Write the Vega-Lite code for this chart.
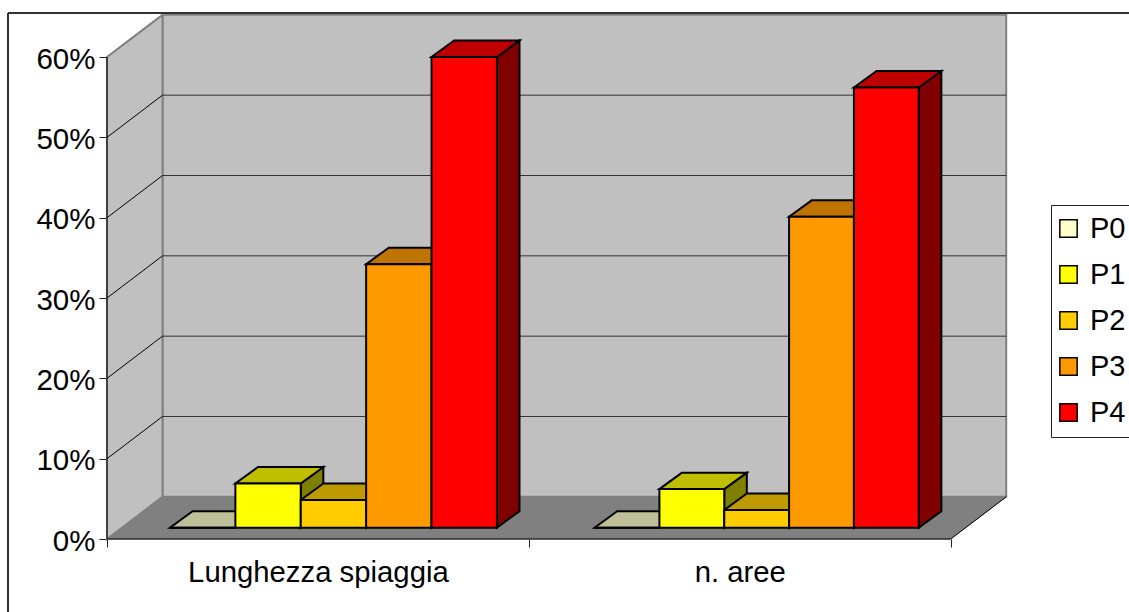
{
  "$schema": "https://vega.github.io/schema/vega-lite/v6.json",
  "width": 1121,
  "height": 599,
  "autosize": {"type": "none"},
  "padding": {"left": 8, "top": 13, "right": 0, "bottom": 0},
  "background": "white",
  "view": {"stroke": null},
  "config": {
    "font": "Liberation Sans"
  },
  "data": {
    "values": [
      {"category": "Lunghezza spiaggia", "series": "P0", "value": 0},
      {"category": "Lunghezza spiaggia", "series": "P1", "value": 5.5},
      {"category": "Lunghezza spiaggia", "series": "P2", "value": 3.45},
      {"category": "Lunghezza spiaggia", "series": "P3", "value": 32.8},
      {"category": "Lunghezza spiaggia", "series": "P4", "value": 58.6},
      {"category": "n. aree", "series": "P0", "value": 0},
      {"category": "n. aree", "series": "P1", "value": 4.8},
      {"category": "n. aree", "series": "P2", "value": 2.2},
      {"category": "n. aree", "series": "P3", "value": 38.7},
      {"category": "n. aree", "series": "P4", "value": 54.8}
    ]
  },
  "transform": [
    {"calculate": "datum.category === 'n. aree' ? 1 : 0", "as": "cat"},
    {"calculate": "indexof(['P0','P1','P2','P3','P4'], datum.series)", "as": "ser"},
    {"calculate": "0.155 - 0.0013 * datum.cat", "as": "barWidth"},
    {"calculate": "0.1138 + 1.0065 * datum.cat + 0.0355 + datum.barWidth * datum.ser", "as": "x0"},
    {"calculate": "datum.x0 + datum.barWidth", "as": "x1"},
    {"calculate": "1.41", "as": "base"},
    {"calculate": "datum.base + datum.value", "as": "top"},
    {"calculate": "datum.category + datum.series", "as": "key"}
  ],
  "layer": [
    {
      "data": {"values": [{"c0": 0, "c1": 2, "p0": 0, "p1": 60}]},
      "transform": [
        {"calculate": "datum.c0 + 0.1316", "as": "xa"},
        {"calculate": "datum.c1 + 0.1316", "as": "xb"},
        {"calculate": "datum.p0 + 5.25", "as": "ya"},
        {"calculate": "datum.p1 + 5.25", "as": "yb"}
      ],
      "mark": {"type": "rect", "fill": "#c0c0c0", "stroke": "#808080", "strokeWidth": 2},
      "encoding": {
        "x": {
          "field": "xa", "type": "quantitative",
          "scale": {"domain": [-0.23468, 2.42266], "nice": false, "zero": false},
          "axis": {
            "orient": "bottom", "values": [0, 1, 2], "labels": false, "domain": false, "grid": false,
            "offset": -73, "tickSize": 8, "tickColor": "#222222", "tickWidth": 1, "title": null
          }
        },
        "x2": {"field": "xb"},
        "y": {
          "field": "ya", "type": "quantitative",
          "scale": {"domain": [-9.0875, 65.48], "nice": false, "zero": false},
          "axis": {
            "orient": "left", "values": [0, 10, 20, 30, 40, 50, 60],
            "labelExpr": "datum.value + '%'", "labelFontSize": 29.5, "labelFont": "Liberation Sans", "labelColor": "#000000",
            "labelPadding": 4, "labelOffset": 2, "domain": false, "grid": false,
            "offset": -99, "tickSize": 8, "tickColor": "#222222", "tickWidth": 1, "title": null
          }
        },
        "y2": {"field": "yb"}
      }
    },
    {
      "data": {"values": [{"depth": 0}, {"depth": 1}]},
      "transform": [
        {"calculate": "datum.depth * 0.1316", "as": "xw"},
        {"calculate": "datum.depth * 5.25", "as": "ylo"},
        {"calculate": "60 + datum.depth * 5.25", "as": "yhi"}
      ],
      "mark": {"type": "area", "fill": "#c0c0c0", "stroke": "#808080", "strokeWidth": 2},
      "encoding": {
        "x": {
          "field": "xw", "type": "quantitative",
          "axis": {
            "orient": "bottom", "values": [0.5, 1.5],
            "labelExpr": "datum.value < 1 ? 'Lunghezza spiaggia' : 'n. aree'",
            "labelFontSize": 29.3, "labelFont": "Liberation Sans", "labelColor": "#000000", "labelLimit": 500,
            "labelPadding": 19, "ticks": false, "domain": false, "grid": false,
            "offset": -73, "title": null
          }
        },
        "y": {"field": "ylo", "type": "quantitative", "axis": null},
        "y2": {"field": "yhi"}
      }
    },
    {
      "data": {"values": [{"depth": 0}, {"depth": 1}]},
      "transform": [
        {"calculate": "datum.depth * 0.1316", "as": "xa"},
        {"calculate": "2 + datum.depth * 0.1316", "as": "xb"},
        {"calculate": "datum.depth * 5.25", "as": "yf"}
      ],
      "mark": {"type": "area", "orient": "horizontal", "fill": "#808080", "stroke": "#808080", "strokeWidth": 1},
      "encoding": {
        "x": {"field": "xa", "type": "quantitative", "axis": null},
        "x2": {"field": "xb"},
        "y": {"field": "yf", "type": "quantitative", "axis": null}
      }
    },
    {
      "data": {"values": [{"pct": 10}, {"pct": 20}, {"pct": 30}, {"pct": 40}, {"pct": 50}]},
      "transform": [
        {"calculate": "0.1316", "as": "xa"},
        {"calculate": "2.1316", "as": "xb"},
        {"calculate": "datum.pct + 5.25", "as": "yg"}
      ],
      "mark": {"type": "rule", "stroke": "#333333", "strokeWidth": 1},
      "encoding": {
        "x": {"field": "xa", "type": "quantitative", "axis": null},
        "x2": {"field": "xb"},
        "y": {"field": "yg", "type": "quantitative", "axis": null}
      }
    },
    {
      "data": {"values": [{"pct": 10}, {"pct": 20}, {"pct": 30}, {"pct": 40}, {"pct": 50}]},
      "transform": [
        {"calculate": "[0, 1]", "as": "d"},
        {"flatten": ["d"]},
        {"calculate": "datum.d * 0.1316", "as": "xg"},
        {"calculate": "datum.pct + datum.d * 5.25", "as": "yg"}
      ],
      "mark": {"type": "line", "stroke": "#000000", "strokeWidth": 1},
      "encoding": {
        "x": {"field": "xg", "type": "quantitative", "axis": null},
        "y": {"field": "yg", "type": "quantitative", "axis": null},
        "detail": {"field": "pct"}
      }
    },
    {
      "data": {"values": [{"depth": 0}, {"depth": 1}]},
      "transform": [
        {"calculate": "2 + datum.depth * 0.1316", "as": "xe"},
        {"calculate": "datum.depth * 5.25", "as": "ye"}
      ],
      "mark": {"type": "line", "stroke": "#000000", "strokeWidth": 1},
      "encoding": {
        "x": {"field": "xe", "type": "quantitative", "axis": null},
        "y": {"field": "ye", "type": "quantitative", "axis": null}
      }
    },
    {
      "transform": [
        {"calculate": "[0, 1]", "as": "d"},
        {"flatten": ["d"]},
        {"calculate": "datum.x1 + datum.d * 0.0535", "as": "xs"},
        {"calculate": "datum.base + datum.d * 2.05", "as": "ylo"},
        {"calculate": "datum.top + datum.d * 2.05", "as": "yhi"}
      ],
      "mark": {"type": "area", "stroke": "#000000", "strokeWidth": 2, "strokeJoin": "miter"},
      "encoding": {
        "x": {"field": "xs", "type": "quantitative", "axis": null},
        "y": {"field": "ylo", "type": "quantitative", "axis": null},
        "y2": {"field": "yhi"},
        "detail": {"field": "key"},
        "fill": {
          "field": "series", "type": "nominal", "legend": null,
          "scale": {"domain": ["P0", "P1", "P2", "P3", "P4"], "range": ["#808066", "#808000", "#806600", "#804c00", "#800000"]}
        }
      }
    },
    {
      "transform": [
        {"calculate": "[0, 1]", "as": "d"},
        {"flatten": ["d"]},
        {"calculate": "datum.x0 + datum.d * 0.0535", "as": "xa"},
        {"calculate": "datum.x1 + datum.d * 0.0535", "as": "xb"},
        {"calculate": "datum.top + datum.d * 2.05", "as": "yt"}
      ],
      "mark": {"type": "area", "orient": "horizontal", "stroke": "#000000", "strokeWidth": 2, "strokeJoin": "miter"},
      "encoding": {
        "x": {"field": "xa", "type": "quantitative", "axis": null},
        "x2": {"field": "xb"},
        "y": {"field": "yt", "type": "quantitative", "axis": null},
        "detail": {"field": "key"},
        "fill": {
          "field": "series", "type": "nominal", "legend": null,
          "scale": {"domain": ["P0", "P1", "P2", "P3", "P4"], "range": ["#bfbf99", "#bfbf00", "#bf9900", "#bf7300", "#bf0000"]}
        }
      }
    },
    {
      "mark": {"type": "rect", "stroke": "#000000", "strokeWidth": 2},
      "encoding": {
        "x": {"field": "x0", "type": "quantitative", "axis": null},
        "x2": {"field": "x1"},
        "y": {"field": "base", "type": "quantitative", "axis": null},
        "y2": {"field": "top"},
        "fill": {
          "field": "series", "type": "nominal",
          "scale": {"domain": ["P0", "P1", "P2", "P3", "P4"], "range": ["#ffffcc", "#ffff00", "#ffcc00", "#ff9900", "#ff0000"]},
          "legend": {
            "title": null, "orient": "none", "legendX": 1043, "legendY": 192,
            "symbolType": "square", "symbolSize": 300, "symbolStrokeColor": "#000000", "symbolStrokeWidth": 1.5,
            "symbolOffset": -6,
            "labelFontSize": 29, "labelFont": "Liberation Sans", "labelColor": "#000000", "labelOffset": 7,
            "rowPadding": 16, "padding": 9, "strokeColor": "#222222", "fillColor": "#ffffff",
            "labelLimit": 60
          }
        }
      }
    },
    {
      "data": {"values": [{"c0": 0, "c1": 2, "p0": 0, "p1": 60}]},
      "mark": {"type": "rule", "stroke": "#000000", "strokeWidth": 1},
      "encoding": {
        "x": {"field": "c0", "type": "quantitative", "axis": null},
        "y": {"field": "p0", "type": "quantitative", "axis": null},
        "y2": {"field": "p1"}
      }
    },
    {
      "data": {"values": [{"c0": 0, "c1": 2, "p0": 0}]},
      "mark": {"type": "rule", "stroke": "#000000", "strokeWidth": 1},
      "encoding": {
        "x": {"field": "c0", "type": "quantitative", "axis": null},
        "x2": {"field": "c1"},
        "y": {"field": "p0", "type": "quantitative", "axis": null}
      }
    },
    {
      "mark": {"type": "rule", "stroke": "#333333", "strokeWidth": 1.5},
      "encoding": {
        "x": {"datum": -0.23468, "type": "quantitative", "axis": null},
        "y": {"datum": -9.0875, "type": "quantitative", "axis": null},
        "y2": {"datum": 65.48}
      }
    },
    {
      "mark": {"type": "rule", "stroke": "#333333", "strokeWidth": 1.5},
      "encoding": {
        "x": {"datum": -0.23468, "type": "quantitative", "axis": null},
        "x2": {"datum": 2.42266},
        "y": {"datum": 65.48, "type": "quantitative", "axis": null}
      }
    }
  ],
  "resolve": {
    "axis": {"x": "independent", "y": "independent"},
    "scale": {"fill": "independent"}
  }
}
